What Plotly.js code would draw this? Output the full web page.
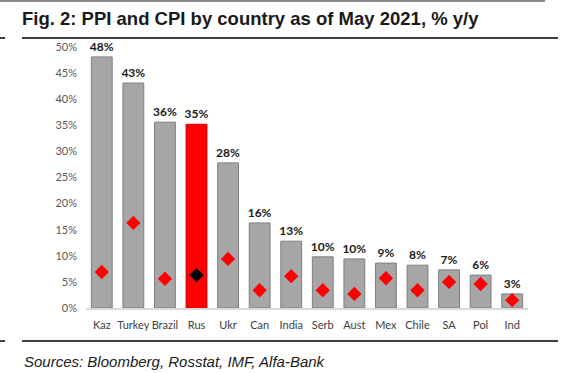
<!DOCTYPE html>
<html><head><meta charset="utf-8">
<script src="https://cdn.plot.ly/plotly-3.0.1.min.js"></script>
<style>html,body{margin:0;padding:0;background:#fff}</style>
</head><body>
<div id="chart" style="width:585px;height:373px"></div>
<script>
var countries = ["Kaz","Turkey","Brazil","Rus","Ukr","Can","India","Serb","Aust","Mex","Chile","SA","Pol","Ind"];
var ppi = [48.1, 43.1, 35.6, 35.2, 27.8, 16.3, 12.8, 9.8, 9.4, 8.6, 8.2, 7.3, 6.3, 2.7];
var ppiLabels = ["48%","43%","36%","35%","28%","16%","13%","10%","10%","9%","8%","7%","6%","3%"];
var cpi = [6.9, 16.3, 5.6, 6.3, 9.4, 3.4, 6.1, 3.4, 2.7, 5.7, 3.4, 5.0, 4.6, 1.5];
var yTicks = [0,5,10,15,20,25,30,35,40,45,50];
var yTickLabels = ["0%","5%","10%","15%","20%","25%","30%","35%","40%","45%","50%"];

var barColors = countries.map(function(c){return c==="Rus" ? "#ff0000" : "#a6a6a6";});
var barLines = countries.map(function(c){return c==="Rus" ? "#d00000" : "#7f7f7f";});
var dotColors = countries.map(function(c){return c==="Rus" ? "#000000" : "#ff0000";});

var L = 86, R = 528, T = 47, B = 308;
function px(x){return (x - L)/(R - L);}
function py(y){return (B - y)/(B - T);}

var data = [
  {type:"bar", x:countries, y:ppi, text:ppiLabels, textposition:"outside", constraintext:"none",
   textfont:{family:"Lato, sans-serif", size:12, color:"#1a1a1a", weight:"bold"},
   marker:{color:barColors, line:{color:barLines, width:1}}, width:0.66,
   cliponaxis:false, hoverinfo:"none"},
  {type:"scatter", mode:"markers", x:countries, y:cpi,
   marker:{symbol:"diamond", size:11, color:dotColors}, cliponaxis:false, hoverinfo:"none"}
];

var layout = {
  width:585, height:373,
  margin:{l:L, r:585-R, t:T, b:373-B, autoexpand:false},
  paper_bgcolor:"#fff", plot_bgcolor:"#fff",
  showlegend:false,
  title:{text:"<b>Fig. 2: PPI and CPI by country as of May 2021, % y/y</b>",
         font:{family:"Liberation Sans, Arial, sans-serif", size:18.5, color:"#1a1a1a"},
         xref:"container", yref:"container", x:22/585, xanchor:"left", y:1-18.5/373, yanchor:"middle"},
  xaxis:{type:"category", range:[-0.5, countries.length-0.5], automargin:false, showgrid:false, zeroline:false, showline:true, linecolor:"#d9d9d9", linewidth:2,
         ticks:"", tickangle:0, tickfont:{family:"Lato, sans-serif", size:11, color:"#404040"}, ticklabelstandoff:6,
         fixedrange:true},
  yaxis:{range:[0,50], automargin:false, tickvals:yTicks, ticktext:yTickLabels, showgrid:false, zeroline:false, showline:false,
         ticks:"", tickfont:{family:"Lato, sans-serif", size:11, color:"#595959"}, ticklabelstandoff:8,
         fixedrange:true},
  bargap:0.34,
  shapes:[
    {type:"line", xref:"paper", yref:"paper", x0:px(0), x1:px(545), y0:py(1), y1:py(1), line:{color:"#8c8c8c", width:2}},
    {type:"line", xref:"paper", yref:"paper", x0:px(0), x1:px(5), y0:py(38), y1:py(38), line:{color:"#000", width:1.5}},
    {type:"line", xref:"paper", yref:"paper", x0:px(22), x1:px(558), y0:py(38), y1:py(38), line:{color:"#000", width:1.5}},
    {type:"line", xref:"paper", yref:"paper", x0:px(0), x1:px(5), y0:py(341), y1:py(341), line:{color:"#000", width:1.5}},
    {type:"line", xref:"paper", yref:"paper", x0:px(22), x1:px(558), y0:py(341), y1:py(341), line:{color:"#000", width:1.5}}
  ],
  annotations:[
    {text:"<i>Sources: Bloomberg, Rosstat, IMF, Alfa-Bank</i>", xref:"paper", yref:"paper",
     x:px(22), y:py(361), xanchor:"left", yanchor:"middle", showarrow:false,
     font:{family:"Liberation Sans, Arial, sans-serif", size:15, color:"#1a1a1a"}}
  ]
};
Plotly.newPlot("chart", data, layout, {displayModeBar:false, staticPlot:true});
</script>
</body></html>
